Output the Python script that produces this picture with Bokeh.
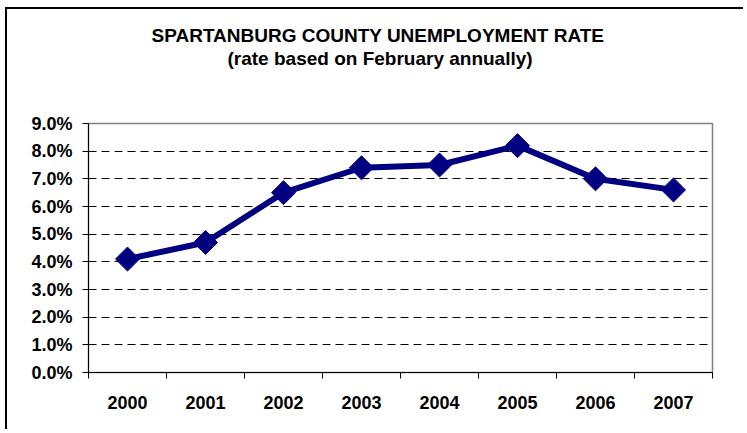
from bokeh.plotting import figure
from bokeh.models import FixedTicker, PrintfTickFormatter, Title, Range1d
from bokeh.embed import file_html
from bokeh.resources import INLINE

years = ["2000", "2001", "2002", "2003", "2004", "2005", "2006", "2007"]
rates = [4.1, 4.7, 6.5, 7.4, 7.5, 8.2, 7.0, 6.6]
y_ticks = [0, 1, 2, 3, 4, 5, 6, 7, 8, 9]
title1 = "SPARTANBURG COUNTY UNEMPLOYMENT RATE"
title2 = "(rate based on February annually)"

xs = [i + 0.5 for i in range(len(years))]

W, H = 738, 422
p = figure(width=W, height=H, output_backend="svg", toolbar_location=None,
           title=None,
           x_range=Range1d(0, len(years)), y_range=Range1d(0, 9),
           min_border_left=81, min_border_right=33, min_border_top=114,
           min_border_bottom=59)
p.styles = {"border-left": "2px solid black", "border-top": "2px solid black",
            "margin-left": "5px", "margin-top": "7px"}
p.background_fill_color = "white"
p.border_fill_color = "white"
p.outline_line_color = "#808080"
p.outline_line_width = 1.5

font = "Liberation Sans"

# y axis
p.yaxis.ticker = FixedTicker(ticks=y_ticks)
p.yaxis.formatter = PrintfTickFormatter(format="%.1f%%")
p.yaxis.major_label_text_font = font
p.yaxis.major_label_text_font_style = "bold"
p.yaxis.major_label_text_font_size = "18px"
p.yaxis.major_label_text_color = "black"
p.yaxis.major_tick_out = 6
p.yaxis.major_tick_in = 0
p.yaxis.minor_tick_line_color = None
p.yaxis.axis_line_color = "black"
p.yaxis.major_tick_line_color = "black"
p.yaxis.major_label_standoff = 10

# x axis
p.xaxis.ticker = FixedTicker(ticks=xs, minor_ticks=list(range(len(years) + 1)))
p.xaxis.major_label_overrides = {x: y for x, y in zip(xs, years)}
p.xaxis.major_label_text_font = font
p.xaxis.major_label_text_font_style = "bold"
p.xaxis.major_label_text_font_size = "18px"
p.xaxis.major_label_text_color = "black"
p.xaxis.major_tick_line_color = None
p.xaxis.major_tick_out = 0
p.xaxis.major_tick_in = 0
p.xaxis.minor_tick_out = 6
p.xaxis.minor_tick_in = 0
p.xaxis.minor_tick_line_color = "black"
p.xaxis.axis_line_color = "black"
p.xaxis.major_label_standoff = 17

p.xgrid.grid_line_color = None
p.ygrid.ticker = FixedTicker(ticks=y_ticks[1:-1])
p.ygrid.grid_line_color = "black"
p.ygrid.grid_line_dash = "8 5"
p.ygrid.grid_line_width = 1

p.line(xs, rates, line_color="#000080", line_width=6)
p.scatter(xs, rates, marker="square", angle=0.785398, size=17,
          fill_color="#000080", line_color="#000080")

# titles: the first one added sits closest to the plot frame (first is a spacer)
p.add_layout(Title(text=" ", standoff=33, text_font=font, text_font_size="18px"),
             "above")
p.add_layout(Title(text=title2, align="left", offset=139, standoff=0,
                   text_font=font, text_font_style="bold", text_font_size="19px",
                   text_color="black"), "above")
p.add_layout(Title(text=title1, align="left", offset=63, standoff=0,
                   text_font=font, text_font_style="bold", text_font_size="19px",
                   text_color="black"), "above")

open("out.html", "w").write(file_html(p, INLINE))
